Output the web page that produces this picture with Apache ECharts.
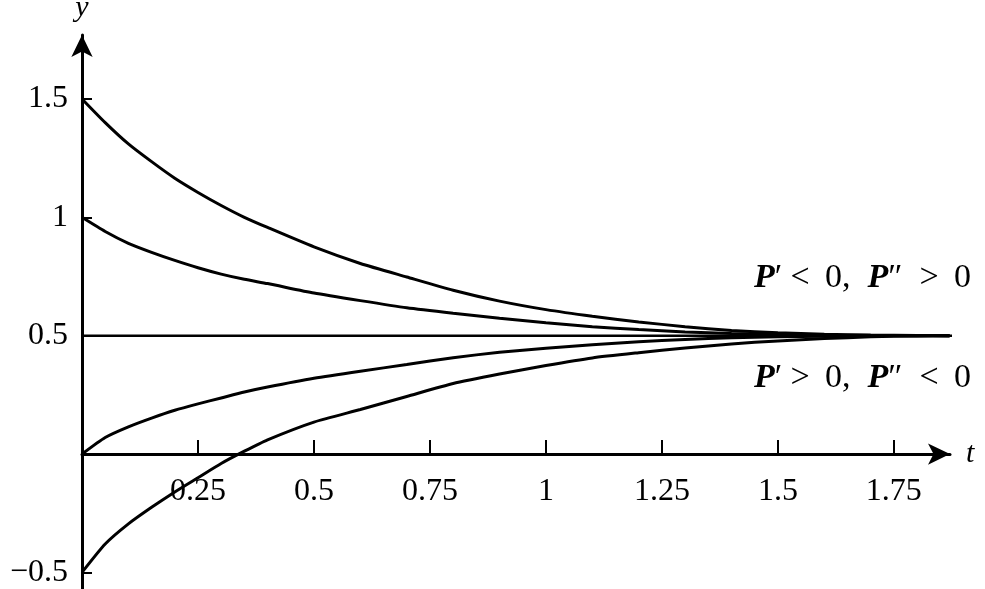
<!DOCTYPE html>
<html>
<head>
<meta charset="utf-8">
<script src="https://cdn.jsdelivr.net/npm/echarts@6/dist/echarts.min.js"></script>
<style>
html,body{margin:0;padding:0;background:#fff;}
#chart{width:985px;height:589px;}
</style>
</head>
<body>
<div id="chart"></div>
<script>
// ---- data ----
const tValues = [0,0.05,0.1,0.15,0.2,0.25,0.3,0.35,0.4,0.5,0.6,0.7,0.8,0.9,1.0,1.1,1.2,1.3,1.4,1.5,1.6,1.7,1.8,1.87];
const curveFrom15 = [1.5,1.40,1.31,1.235,1.165,1.105,1.05,1.0,0.957,0.875,0.805,0.748,0.692,0.646,0.61,0.582,0.558,0.538,0.522,0.512,0.506,0.503,0.501,0.5];
const curveFrom1 = [1.0,0.94,0.89,0.852,0.818,0.787,0.76,0.738,0.72,0.68,0.648,0.618,0.595,0.574,0.555,0.538,0.526,0.516,0.509,0.505,0.502,0.501,0.5,0.5];
const curveFrom0 = [0,0.07,0.115,0.152,0.185,0.212,0.237,0.262,0.283,0.32,0.35,0.378,0.407,0.43,0.447,0.462,0.474,0.484,0.491,0.495,0.498,0.499,0.5,0.5];
const curveFromM05 = [-0.5,-0.38,-0.295,-0.225,-0.16,-0.1,-0.04,0.012,0.06,0.135,0.188,0.243,0.298,0.338,0.374,0.406,0.428,0.448,0.465,0.478,0.488,0.495,0.499,0.5];
const equilibriumT = [0, 1.946];
const equilibriumY = [0.5, 0.5];
const xTickValues = [0.25,0.5,0.75,1,1.25,1.5,1.75];
const xTickLabels = ['0.25','0.5','0.75','1','1.25','1.5','1.75'];
const yTickValues = [-0.5,0.5,1,1.5];
const yTickLabels = ['\u22120.5','0.5','1','1.5'];
const annotations = ['{i|P}\u2032 < \u20090,\u2002{i|P}\u2033\u2002> \u20090', '{i|P}\u2032 > \u20090,\u2002{i|P}\u2033\u2002< \u20090'];

const FONT = '"Liberation Serif", "DejaVu Serif", serif';
const pairs = (xs, ys) => xs.map((x, i) => [x, ys[i]]);
const curves = [curveFrom15, curveFrom1, curveFrom0, curveFromM05];

const chart = echarts.init(document.getElementById('chart'));
const lineSeries = curves.map(c => ({
  type: 'line',
  data: pairs(tValues, c),
  symbol: 'none',
  smooth: 0.2,
  lineStyle: { color: '#000', width: 3 },
  silent: true
}));
lineSeries.push({
  type: 'line',
  data: pairs(equilibriumT, equilibriumY),
  symbol: 'none',
  clip: false,
  lineStyle: { color: '#000', width: 2.5 },
  silent: true
});

chart.setOption({
  animation: false,
  backgroundColor: '#fff',
  grid: { left: 82, right: 35, top: 35, bottom: 0, containLabel: false, outerBoundsMode: 'none' },
  xAxis: {
    type: 'value', min: 0, max: 1.871,
    name: 't', nameLocation: 'end', nameGap: 16,
    nameTextStyle: { fontFamily: FONT, fontStyle: 'italic', fontSize: 30, color: '#000', verticalAlign: 'middle' },
    axisLine: { onZero: true, lineStyle: { color: '#000', width: 3 }, symbol: ['none', 'arrow'], symbolSize: [16, 22] },
    axisTick: { show: true, inside: true, length: 14, customValues: xTickValues, lineStyle: { color: '#000', width: 2 } },
    axisLabel: {
      customValues: xTickValues, margin: -113,
      fontFamily: FONT, fontSize: 32, color: '#000',
      formatter: v => { const i = xTickValues.findIndex(x => Math.abs(x - v) < 1e-9); return i >= 0 ? xTickLabels[i] : ''; }
    },
    splitLine: { show: false }
  },
  yAxis: {
    type: 'value', min: -0.57, max: 1.77,
    name: 'y', nameLocation: 'end', nameGap: 12,
    nameTextStyle: { fontFamily: FONT, fontStyle: 'italic', fontSize: 30, color: '#000', align: 'center' },
    axisLine: { onZero: false, lineStyle: { color: '#000', width: 3 }, symbol: ['none', 'arrow'], symbolSize: [16, 22] },
    axisTick: { show: true, inside: true, length: 10, customValues: yTickValues, lineStyle: { color: '#000', width: 2 } },
    axisLabel: {
      customValues: yTickValues, margin: 14,
      fontFamily: FONT, fontSize: 32, color: '#000',
      formatter: v => { const i = yTickValues.findIndex(y => Math.abs(y - v) < 1e-9); return i >= 0 ? yTickLabels[i] : ''; }
    },
    splitLine: { show: false }
  },
  graphic: [
    { type: 'text', right: 14, top: 261, style: { text: annotations[0], fill: '#000', font: '34px ' + FONT,
      rich: { i: { fontStyle: 'italic', fontFamily: FONT, fontSize: 34, fontWeight: 'bold' } } } },
    { type: 'text', right: 14, top: 361, style: { text: annotations[1], fill: '#000', font: '34px ' + FONT,
      rich: { i: { fontStyle: 'italic', fontFamily: FONT, fontSize: 34, fontWeight: 'bold' } } } }
  ],
  series: lineSeries
});
</script>
</body>
</html>
